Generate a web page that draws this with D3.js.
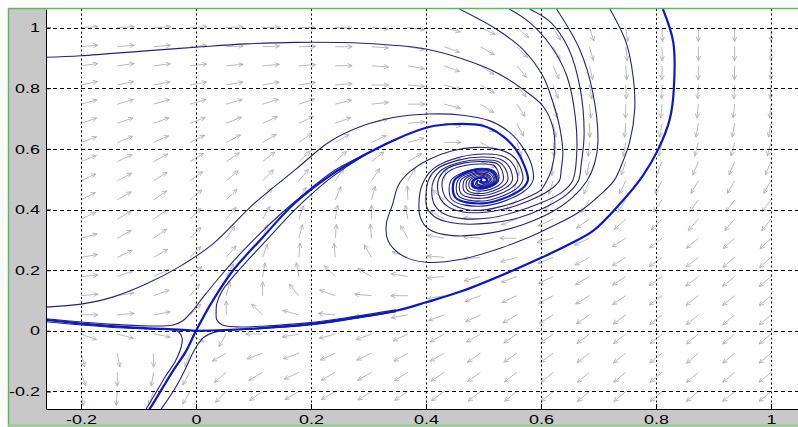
<!DOCTYPE html>
<html lang="en">
<head>
<meta charset="utf-8">
<title>Phase portrait</title>
<script src="https://cdnjs.cloudflare.com/ajax/libs/d3/7.8.5/d3.min.js"></script>
<style>
  body { margin: 0; background: #fff; }
  svg { display: block; }
  .axis text { font-family: "Liberation Sans", Arial, sans-serif; font-size: 13px; fill: #000; }
  .axis path, .axis line { stroke: #000; }
</style>
</head>
<body>
<script>
// tick values
const xTicks = [-0.2, 0, 0.2, 0.4, 0.6, 0.8, 1];
const yTicks = [-0.2, 0, 0.2, 0.4, 0.6, 0.8, 1];

// direction field: grid (x left->right, y top->bottom) and arrow angle in degrees
const fieldX = [-0.2, -0.1368, -0.0737, -0.0105, 0.0526, 0.1158, 0.1789, 0.2421, 0.3053, 0.3684,
                0.4316, 0.4947, 0.5579, 0.6211, 0.6842, 0.7474, 0.8105, 0.8737, 0.9368, 1.0];
const fieldY = [1.0, 0.9368, 0.8737, 0.8105, 0.7474, 0.6842, 0.6211, 0.5579, 0.4947, 0.4316,
                0.3684, 0.3053, 0.2421, 0.1789, 0.1158, 0.0526, -0.0105, -0.0737, -0.1368, -0.2];
const fieldAngle = [
  [3,3,2,2,2,1,0,-2,-5,-8,-15,-25,-40,-60,-72,-82,-88,-90,-90,-90],
  [5,5,5,4,3,2,1,0,-4,-10,-20,-30,-45,-62,-74,-84,-89,-90,-90,-90],
  [8,8,7,6,5,5,4,1,-4,-10,-20,-32,-50,-66,-77,-86,-90,-91,-91,-91],
  [12,12,11,10,10,10,9,5,0,-5,-15,-30,-52,-70,-80,-88,-92,-93,-93,-93],
  [15,16,16,16,16,17,18,14,6,0,-14,-32,-56,-74,-84,-91,-95,-96,-96,-96],
  [18,19,20,21,22,24,25,20,14,5,-10,-32,-62,-78,-88,-95,-99,-100,-100,-100],
  [20,22,24,26,28,31,35,30,25,15,0,-28,-70,-85,-95,-100,-104,-105,-105,-105],
  [22,25,28,31,34,38,42,42,38,30,12,-20,-82,-95,-102,-108,-112,-113,-113,-113],
  [25,28,32,36,40,45,50,55,57,60,80,-100,-105,-108,-112,-116,-119,-120,-120,-120],
  [27,30,35,40,45,52,60,67,75,92,140,-160,-135,-125,-122,-123,-125,-126,-126,-127],
  [25,30,35,45,50,60,70,80,90,100,150,175,-160,-155,-145,-138,-135,-132,-130,-128],
  [15,30,35,45,55,70,75,85,95,120,170,175,180,-165,-155,-148,-142,-140,-138,-136],
  [10,25,30,45,50,70,85,95,120,160,175,-175,-165,-158,-152,-148,-145,-142,-140,-138],
  [5,20,25,40,60,80,100,135,150,170,-175,-165,-160,-155,-150,-147,-145,-143,-141,-140],
  [5,10,20,50,75,90,130,160,175,180,-170,-160,-155,-152,-149,-146,-144,-142,-141,-140],
  [0,5,10,45,90,135,165,175,-175,-170,-160,-155,-150,-148,-146,-144,-142,-141,-140,-140],
  [-20,-15,-10,-30,-120,180,-170,-165,-160,-155,-150,-150,-145,-144,-143,-142,-141,-140,-140,-140],
  [-75,-80,-90,-110,-150,-160,-160,-155,-155,-150,-150,-145,-145,-144,-143,-142,-141,-140,-140,-140],
  [-70,-90,-100,-120,-140,-150,-155,-150,-150,-148,-146,-144,-142,-141,-140,-140,-140,-140,-140,-140],
  [-80,-95,-110,-120,-135,-145,-150,-150,-148,-146,-144,-142,-141,-140,-140,-140,-140,-140,-140,-140]
];

// trajectories (x, y), thin ones
const trajA = [[-0.262,0.902],[-0.2,0.907],[-0.087,0.923],[0,0.935],[0.087,0.946],[0.174,0.951],[0.29,0.948],[0.40,0.929],[0.464,0.896],[0.522,0.852],[0.568,0.797],[0.603,0.742],[0.62,0.676],[0.624,0.6],[0.618,0.53],[0.61,0.495],[0.6,0.465],[0.57,0.435],[0.535,0.412],[0.498,0.398],[0.47,0.4],[0.448,0.415],[0.433,0.442],[0.428,0.475],[0.43,0.505],[0.445,0.532],[0.47,0.546],[0.498,0.55],[0.518,0.545],[0.526,0.52],[0.526,0.495],[0.52,0.482],[0.498,0.468],[0.481,0.475],[0.481,0.495],[0.487,0.503],[0.498,0.508],[0.505,0.505],[0.507,0.495],[0.502,0.49],[0.496,0.492]];
const trajB = [[-0.262,0.078],[-0.2,0.088],[-0.145,0.111],[-0.087,0.154],[-0.03,0.21],[0.029,0.286],[0.1,0.418],[0.174,0.533],[0.231,0.622],[0.29,0.676],[0.348,0.705],[0.405,0.715],[0.464,0.711],[0.51,0.693],[0.545,0.655],[0.57,0.6],[0.584,0.545],[0.586,0.495],[0.567,0.455],[0.498,0.411],[0.445,0.433],[0.443,0.495],[0.463,0.521],[0.498,0.536],[0.519,0.526],[0.526,0.495],[0.52,0.482],[0.498,0.468],[0.48,0.475],[0.48,0.495],[0.49,0.503],[0.498,0.5]];
const trajT1 = [[0.458,1.061],[0.522,0.995],[0.568,0.929],[0.603,0.841],[0.617,0.775],[0.632,0.676],[0.638,0.588],[0.635,0.53],[0.632,0.495],[0.612,0.46],[0.578,0.428],[0.54,0.403],[0.498,0.39],[0.465,0.392],[0.44,0.407],[0.425,0.435],[0.42,0.47],[0.423,0.505],[0.437,0.535],[0.465,0.553],[0.498,0.558],[0.524,0.551],[0.532,0.53],[0.534,0.495],[0.526,0.479],[0.498,0.461],[0.476,0.47],[0.476,0.495],[0.484,0.506],[0.498,0.512],[0.507,0.508],[0.51,0.495],[0.505,0.489],[0.498,0.486],[0.492,0.492]];
const trajT2 = [[0.545,1.061],[0.58,1.017],[0.617,0.94],[0.645,0.84],[0.66,0.7],[0.662,0.58],[0.655,0.495],[0.635,0.455],[0.595,0.418],[0.552,0.39],[0.51,0.372],[0.463,0.37],[0.432,0.385],[0.415,0.415],[0.41,0.455],[0.413,0.495],[0.428,0.532],[0.46,0.556],[0.498,0.564],[0.527,0.557],[0.538,0.535],[0.542,0.495],[0.532,0.475],[0.498,0.453],[0.472,0.464],[0.471,0.495],[0.48,0.508],[0.498,0.516],[0.509,0.51],[0.512,0.495],[0.509,0.489],[0.498,0.481],[0.489,0.487],[0.492,0.498]];
const trajT3 = [[0.58,1.061],[0.617,1.017],[0.648,0.93],[0.668,0.8],[0.675,0.65],[0.67,0.55],[0.665,0.495],[0.645,0.45],[0.605,0.405],[0.56,0.372],[0.51,0.355],[0.458,0.353],[0.42,0.37],[0.402,0.405],[0.4,0.45],[0.405,0.5],[0.42,0.535],[0.455,0.562],[0.498,0.573],[0.53,0.565],[0.545,0.54],[0.55,0.495],[0.539,0.472],[0.498,0.446],[0.467,0.459],[0.466,0.495],[0.477,0.511],[0.498,0.519],[0.51,0.513],[0.515,0.495],[0.511,0.487],[0.498,0.479],[0.488,0.486],[0.491,0.498]];
const trajT4 = [[0.627,1.061],[0.667,0.929],[0.69,0.786],[0.699,0.621],[0.693,0.55],[0.68,0.495],[0.655,0.44],[0.617,0.39],[0.568,0.35],[0.51,0.322],[0.446,0.314],[0.405,0.335],[0.39,0.375],[0.388,0.43],[0.393,0.48],[0.41,0.53],[0.445,0.565],[0.498,0.583],[0.535,0.575],[0.553,0.545],[0.559,0.495],[0.546,0.468],[0.498,0.437],[0.461,0.452],[0.46,0.495],[0.474,0.513],[0.498,0.524],[0.513,0.516],[0.518,0.495],[0.513,0.486],[0.498,0.476],[0.486,0.483],[0.49,0.498]];
const trajT5 = [[0.72,1.061],[0.748,0.951],[0.76,0.841],[0.763,0.731],[0.754,0.621],[0.737,0.533],[0.727,0.495],[0.708,0.457],[0.665,0.39],[0.617,0.342],[0.58,0.309],[0.533,0.275],[0.464,0.237],[0.40,0.226],[0.359,0.248],[0.334,0.297],[0.331,0.352],[0.342,0.418],[0.352,0.48],[0.371,0.523],[0.406,0.566],[0.446,0.594],[0.487,0.605],[0.522,0.6],[0.55,0.578],[0.563,0.545],[0.568,0.495],[0.553,0.463],[0.498,0.428],[0.456,0.446],[0.455,0.495],[0.47,0.516],[0.498,0.528],[0.515,0.52],[0.52,0.495],[0.516,0.485],[0.498,0.473],[0.484,0.479],[0.484,0.495],[0.491,0.502],[0.498,0.5]];
const trajH1 = [[-0.262,0.04],[-0.15,0.022],[-0.08,0.016],[-0.04,0.019],[-0.023,0.033],[-0.006,0.066],[0.012,0.11],[0.04,0.175],[0.075,0.25],[0.112,0.322],[0.15,0.39],[0.19,0.455],[0.24,0.528],[0.29,0.578],[0.348,0.632]];
const trajH2 = [[0.348,0.069],[0.261,0.043],[0.197,0.027],[0.12,0.016],[0.07,0.013],[0.045,0.02],[0.036,0.037],[0.035,0.06],[0.036,0.088],[0.045,0.13],[0.07,0.19],[0.123,0.3],[0.178,0.41],[0.235,0.505],[0.29,0.575],[0.348,0.631]];
const trajH3 = [[-0.262,0.03],[-0.15,0.012],[-0.08,0.006],[-0.045,0.004],[-0.03,-0.004],[-0.024,-0.025],[-0.026,-0.055],[-0.036,-0.1],[-0.053,-0.15],[-0.07,-0.205],[-0.088,-0.262]];
const trajH4 = [[0.348,0.063],[0.261,0.036],[0.197,0.019],[0.12,0.008],[0.06,0.002],[0.03,-0.006],[0.013,-0.022],[0.003,-0.045],[-0.006,-0.075],[-0.017,-0.12],[-0.035,-0.185],[-0.062,-0.262]];
// thick separatrices
const trajC = [[-0.082,-0.262],[-0.075,-0.241],[-0.04,-0.132],[-0.017,-0.066],[0.0,0.0],[0.03,0.102],[0.064,0.198],[0.116,0.308],[0.17,0.418],[0.232,0.51],[0.29,0.577],[0.348,0.632],[0.405,0.672],[0.452,0.682],[0.499,0.676],[0.533,0.643],[0.556,0.599],[0.571,0.545],[0.577,0.495],[0.56,0.459],[0.498,0.42],[0.451,0.44],[0.449,0.495],[0.466,0.519],[0.498,0.532],[0.517,0.523],[0.523,0.495],[0.518,0.484],[0.498,0.471],[0.482,0.477],[0.482,0.495],[0.488,0.502],[0.498,0.506],[0.504,0.503],[0.506,0.495],[0.501,0.489],[0.494,0.492],[0.497,0.498]];
const trajD = [[0.812,1.061],[0.83,0.952],[0.831,0.797],[0.824,0.698],[0.804,0.599],[0.777,0.511],[0.737,0.418],[0.691,0.33],[0.65,0.286],[0.603,0.243],[0.55,0.198],[0.464,0.132],[0.40,0.094],[0.348,0.066],[0.261,0.039],[0.197,0.022],[0.087,0.006],[0.0,0.0]];
const trajE = [[-0.262,0.036],[-0.2,0.024],[-0.1,0.01],[-0.03,0.004],[0.0,0.0]];

const thinCurves = [trajA, trajB, trajT1, trajT2, trajT3, trajT4, trajT5, trajH1, trajH2, trajH3, trajH4];
const thickCurves = [trajC, trajD, trajE];

// layout
const W = 798, H = 427;
const plotLeft = 46, plotRight = 798, plotTop = 9, plotBottom = 409;
const labelStretch = 1.38;   // the screenshot's text is wider than it is tall

const svg = d3.select("body").append("svg")
    .attr("width", W)
    .attr("height", H);

// figure background + plot area
svg.append("rect").attr("x", 8).attr("y", 8).attr("width", W - 8).attr("height", H - 8)
    .attr("fill", "#c8c8c8");
svg.append("rect").attr("x", plotLeft).attr("y", plotTop)
    .attr("width", plotRight - plotLeft).attr("height", plotBottom - plotTop)
    .attr("fill", "#fff");

const xScale = d3.scaleLinear().domain([-0.26087, 1.04696]).range([plotLeft, plotRight]);
const yScale = d3.scaleLinear().domain([-0.2578, 1.0611]).range([plotBottom, plotTop]);

svg.append("clipPath").attr("id", "plot-area")
    .append("rect")
    .attr("x", plotLeft).attr("y", plotTop)
    .attr("width", plotRight - plotLeft).attr("height", plotBottom - plotTop);

const plot = svg.append("g").attr("clip-path", "url(#plot-area)");

// arrows
const arrows = [];
fieldY.forEach(function(yv, r) {
    fieldX.forEach(function(xv, c) {
        arrows.push({x: xv, y: yv, a: fieldAngle[r][c]});
    });
});

function arrowPath(d) {
    const t = d.a * Math.PI / 180;
    const ca = Math.cos(t), sa = Math.sin(t);
    const len = 1 / Math.sqrt((ca / 17) * (ca / 17) + (sa / 14) * (sa / 14));
    const x0 = xScale(d.x), y0 = yScale(d.y);
    const x1 = x0 + len * ca, y1 = y0 - len * sa;
    const hl = 5, ha = 25 * Math.PI / 180;
    const p = d3.path();
    p.moveTo(x0, y0);
    p.lineTo(x1, y1);
    p.moveTo(x1 - hl * Math.cos(t - ha), y1 + hl * Math.sin(t - ha));
    p.lineTo(x1, y1);
    p.lineTo(x1 - hl * Math.cos(t + ha), y1 + hl * Math.sin(t + ha));
    return p.toString();
}

plot.append("g")
    .selectAll("path")
    .data(arrows)
    .enter()
    .append("path")
    .attr("d", arrowPath)
    .attr("fill", "none")
    .attr("stroke", "#b2b2b2")
    .attr("stroke-width", 0.9);

// grid
plot.append("g")
    .selectAll("line")
    .data(yTicks)
    .enter()
    .append("line")
    .attr("x1", plotLeft).attr("x2", plotRight)
    .attr("y1", d => Math.round(yScale(d)) + 0.5)
    .attr("y2", d => Math.round(yScale(d)) + 0.5)
    .attr("stroke", "#000")
    .attr("stroke-dasharray", "4,3");

plot.append("g")
    .selectAll("line")
    .data(xTicks)
    .enter()
    .append("line")
    .attr("y1", plotTop).attr("y2", plotBottom)
    .attr("x1", d => Math.round(xScale(d)) + 0.5)
    .attr("x2", d => Math.round(xScale(d)) + 0.5)
    .attr("stroke", "#000")
    .attr("stroke-dasharray", "2,2.5");

// trajectories
const line = d3.line()
    .x(d => xScale(d[0]))
    .y(d => yScale(d[1]))
    .curve(d3.curveCatmullRom.alpha(0.5));

plot.append("g")
    .selectAll("path")
    .data(thinCurves)
    .enter()
    .append("path")
    .attr("d", line)
    .attr("fill", "none")
    .attr("stroke", "#24247e")
    .attr("stroke-width", 1.1);

plot.append("g")
    .selectAll("path")
    .data(thickCurves)
    .enter()
    .append("path")
    .attr("d", line)
    .attr("fill", "none")
    .attr("stroke", "#0c18c8")
    .attr("stroke-width", 2.2);

// axes
const fmt = d => d3.format("~g")(d).replace("\u2212", "-");
const xAxis = d3.axisBottom(xScale)
    .tickValues(xTicks)
    .tickFormat(fmt)
    .tickSizeInner(-5)
    .tickSizeOuter(0)
    .tickPadding(6);
const yAxis = d3.axisLeft(yScale)
    .tickValues(yTicks)
    .tickFormat(fmt)
    .tickSizeInner(-5)
    .tickSizeOuter(0)
    .tickPadding(6 / labelStretch);

svg.append("g")
    .attr("class", "x axis")
    .attr("transform", `translate(0,${plotBottom})`)
    .call(xAxis);

svg.append("g")
    .attr("class", "y axis")
    .attr("transform", `translate(${plotLeft},0)`)
    .call(yAxis);

svg.selectAll(".axis text").attr("transform", `scale(${labelStretch},1)`);

// window frame (green)
svg.append("line").attr("x1", 8).attr("x2", W).attr("y1", 8.5).attr("y2", 8.5)
    .attr("stroke", "#5cb85c").attr("stroke-width", 1.5);
svg.append("line").attr("x1", 8.5).attr("x2", 8.5).attr("y1", 8).attr("y2", H)
    .attr("stroke", "#5cb85c").attr("stroke-width", 1.5);
svg.append("line").attr("x1", 8).attr("x2", W).attr("y1", 425.5).attr("y2", 425.5)
    .attr("stroke", "#8fd08f").attr("stroke-width", 2);
</script>
</body>
</html>
